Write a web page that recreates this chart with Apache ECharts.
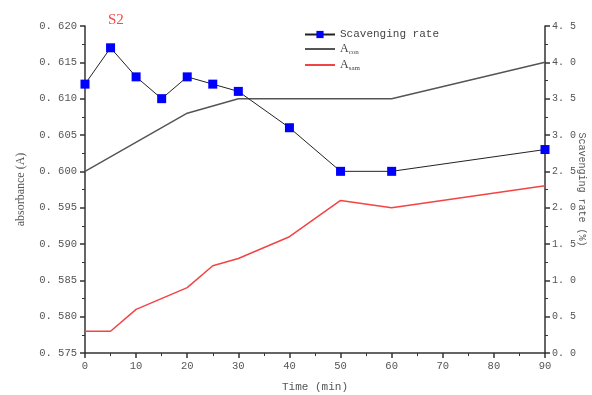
<!DOCTYPE html>
<html><head><meta charset="utf-8">
<script src="https://cdn.jsdelivr.net/npm/echarts@6/dist/echarts.min.js"></script>
<style>html,body{margin:0;padding:0;background:#fff}#c{width:592px;height:395px}</style>
</head><body><div id="c"></div>
<script>
var timeRate = [0, 5, 10, 15, 20, 25, 30, 40, 50, 60, 90];
var scavengingRate = [3.7, 4.2, 3.8, 3.5, 3.8, 3.7, 3.6, 3.1, 2.5, 2.5, 2.8];
var timeCon = [0, 20, 30, 60, 90];
var aCon = [0.600, 0.608, 0.610, 0.610, 0.615];
var timeSam = [0, 5, 10, 20, 25, 30, 40, 50, 60, 90];
var aSam = [0.578, 0.578, 0.581, 0.584, 0.587, 0.588, 0.591, 0.596, 0.595, 0.598];

function pairs(xs, ys){ return xs.map(function(x,i){return [x, ys[i]];}); }
var MONO = '"Liberation Mono", "DejaVu Sans Mono", monospace';
var SERIF = '"Liberation Serif", "DejaVu Serif", serif';
var axisCol = '#333';
var lblCol = '#555';

var chart = echarts.init(document.getElementById('c'), null, {renderer:'canvas'});
chart.setOption({
  animation: false,
  backgroundColor: '#fff',
  grid: {left: 85, right: 47, top: 26, bottom: 42, containLabel: false, outerBoundsMode: 'none'},
  title: {text: 'S2', left: 103, top: 8, textStyle: {color: '#f04a4a', fontSize: 15, fontWeight: 'normal', fontFamily: SERIF}},
  legend: {
    orient: 'vertical', left: 299, top: 24, itemGap: 3, itemWidth: 30, itemHeight: 9,
    textStyle: {fontFamily: MONO, fontSize: 11, color: '#444',
      rich: {a: {fontFamily: SERIF, fontSize: 12, color: '#444'}, s: {fontFamily: SERIF, fontSize: 7, color: '#444', padding: [7,0,0,0]}}},
    formatter: function(n){
      if (n === 'A_con') return '{a|A}{s|con}';
      if (n === 'A_sam') return '{a|A}{s|sam}';
      return n;
    },
    data: ['Scavenging rate', {name: 'A_con', itemStyle: {opacity: 0}}, {name: 'A_sam', itemStyle: {opacity: 0}}]
  },
  xAxis: {
    type: 'value', min: 0, max: 90, interval: 10,
    name: 'Time (min)', nameLocation: 'middle', nameGap: 29,
    nameTextStyle: {fontFamily: MONO, fontSize: 11, color: lblCol},
    axisLine: {lineStyle: {color: axisCol, width: 1.5}},
    axisTick: {inside: false, length: 5, lineStyle: {color: axisCol, width: 1.5}},
    minorTick: {show: true, splitNumber: 2, length: 3, lineStyle: {color: axisCol}},
    splitLine: {show: false},
    axisLabel: {fontFamily: MONO, fontSize: 10.5, color: lblCol, margin: 8}
  },
  yAxis: [{
    type: 'value', min: 0.575, max: 0.620, interval: 0.005, position: 'left',
    name: 'absorbance (A)', nameLocation: 'middle', nameGap: 58, nameRotate: 90,
    nameMoveOverlap: false,
    nameTextStyle: {fontFamily: SERIF, fontSize: 12, color: lblCol},
    axisLine: {show: true, lineStyle: {color: axisCol, width: 1.5}},
    axisTick: {show: true, length: 5, lineStyle: {color: axisCol, width: 1.5}},
    minorTick: {show: true, splitNumber: 2, length: 3, lineStyle: {color: axisCol}},
    splitLine: {show: false},
    axisLabel: {fontFamily: MONO, fontSize: 10.5, color: lblCol, margin: 8,
      formatter: function(v){ return v.toFixed(3).replace('.', '. '); }}
  }, {
    type: 'value', min: 0, max: 4.5, interval: 0.5, position: 'right',
    name: 'Scavenging rate (%)', nameLocation: 'middle', nameGap: 32, nameRotate: -90,
    nameMoveOverlap: false,
    nameTextStyle: {fontFamily: MONO, fontSize: 10, color: lblCol},
    axisLine: {show: true, lineStyle: {color: axisCol, width: 1.5}},
    axisTick: {show: true, length: 5, lineStyle: {color: axisCol, width: 1.5}},
    minorTick: {show: true, splitNumber: 2, length: 3, lineStyle: {color: axisCol}},
    splitLine: {show: false},
    axisLabel: {fontFamily: MONO, fontSize: 10, color: lblCol, margin: 7,
      formatter: function(v){ return v.toFixed(1).replace('.', '. '); }}
  }],
  series: [{
    name: 'A_con', type: 'line', yAxisIndex: 0, data: pairs(timeCon, aCon),
    symbol: 'none', lineStyle: {color: '#555', width: 1.5}, itemStyle: {color: '#555'}
  }, {
    name: 'A_sam', type: 'line', yAxisIndex: 0, data: pairs(timeSam, aSam),
    symbol: 'none', lineStyle: {color: '#f24444', width: 1.5}, itemStyle: {color: '#f24444'}
  }, {
    name: 'Scavenging rate', type: 'line', yAxisIndex: 1, data: pairs(timeRate, scavengingRate),
    symbol: 'rect', symbolSize: 9, lineStyle: {color: '#222', width: 1},
    itemStyle: {color: '#0000ff', borderWidth: 0}
  }]
});
</script></body></html>
